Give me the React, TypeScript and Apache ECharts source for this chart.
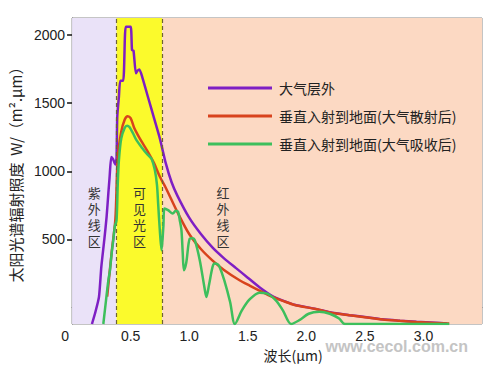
import React, { useEffect, useRef } from "react";
import * as echarts from "echarts";

// ---- data (wavelength µm, irradiance W/(m²·µm)) ----
const seriesNames = ["大气层外", "垂直入射到地面(大气散射后)", "垂直入射到地面(大气吸收后)"];

const outsideX = [0.17, 0.2, 0.23, 0.25, 0.275, 0.295, 0.31, 0.32, 0.335, 0.35, 0.37, 0.38, 0.386, 0.4, 0.412, 0.437, 0.452, 0.46, 0.5, 0.512, 0.525, 0.545, 0.56, 0.575, 0.6, 0.65, 0.7, 0.75, 0.8, 0.85, 0.9, 1.0, 1.1, 1.2, 1.3, 1.4, 1.5, 1.6, 1.71, 1.8, 1.9, 2.08, 2.2, 2.37, 2.5, 2.65, 2.8, 2.94, 3.1, 3.2];
const outsideY = [-120, -30, 79, 299, 495, 666, 840, 950, 1105, 1090, 1050, 1100, 1400, 1547, 1665, 1665, 2000, 2061, 2061, 1890, 1885, 1719, 1740, 1748, 1690, 1540, 1390, 1240, 1060, 920, 820, 660, 540, 440, 360, 290, 220, 150, 85, 52, 21, -9, -34, -55, -69, -86, -96, -104, -111, -116];

const scatterX = [0.3, 0.34, 0.37, 0.39, 0.42, 0.45, 0.475, 0.5, 0.53, 0.56, 0.6, 0.65, 0.7, 0.75, 0.8, 0.9, 1.0, 1.1, 1.2, 1.3, 1.43, 1.52, 1.6, 1.71, 1.8, 1.9, 2.08, 2.2, 2.37, 2.5, 2.65, 2.8, 2.94, 3.1, 3.22];
const scatterY = [80, 420, 650, 1100, 1290, 1380, 1405, 1390, 1320, 1270, 1210, 1140, 1060, 960, 880, 700, 540, 430, 345, 275, 201, 160, 125, 79, 50, 20, -10, -35, -56, -70, -87, -97, -105, -112, -117];

const absorbX = [0.267, 0.29, 0.31, 0.324, 0.338, 0.352, 0.366, 0.38, 0.39, 0.4, 0.42, 0.45, 0.47, 0.49, 0.52, 0.55, 0.6, 0.636, 0.66, 0.68, 0.707, 0.725, 0.735, 0.75, 0.764, 0.78, 0.79, 0.82, 0.86, 0.885, 0.905, 0.92, 0.934, 0.945, 0.955, 0.975, 1.005, 1.03, 1.048, 1.09, 1.13, 1.147, 1.17, 1.2, 1.218, 1.24, 1.26, 1.3, 1.35, 1.39, 1.45, 1.516, 1.6, 1.66, 1.74, 1.8, 1.87, 1.94, 2.02, 2.11, 2.2, 2.28, 2.33, 3.22];
const absorbY = [-120, 54, 200, 275, 397, 495, 600, 640, 900, 1080, 1240, 1320, 1335, 1325, 1280, 1229, 1170, 1131, 1110, 1090, 1009, 900, 764, 560, 421, 600, 728, 715, 691, 710, 703, 640, 568, 400, 275, 330, 507, 510, 495, 350, 150, 79, 170, 300, 324, 320, 299, 200, 40, -120, -20, 60, 110, 105, 54, -20, -120, -92, -45, -31, -45, -80, -120, -120];

const regionBounds = [0, 0.38, 0.77, 3.5];
const regionLabels = ["紫\n外\n线\n区", "可\n见\n光\n区", "红\n外\n线\n区"];
const xLabelValues = [0, 0.5, 1.0, 1.5, 2.0, 2.5, 3.0];
const xTickValues = [0.5, 1.0, 1.5, 2.0, 2.5, 3.0];
const yTickValues = [500, 1000, 1500, 2000];

const zip = (xs: number[], ys: number[]) => xs.map((x, i) => [x, ys[i]]);

export default function App() {
  const ref = useRef<HTMLDivElement>(null);
  useEffect(() => {
    if (!ref.current) return;
    document.body.style.margin = "0";
    const chart = echarts.init(ref.current, null, { renderer: "svg" });
    const font = "'Liberation Sans', Arial, 'Noto Sans CJK SC', sans-serif";
    const cjk = "'Noto Sans CJK SC', sans-serif";
    const bandColors = ["#eae2f8", "#fbfa2c", "#fcd9c3"];
    const labelPos: any[] = [["50%", "65%"], ["50%", "65%"], ["19%", "65%"]];
    chart.setOption({
      animation: false,
      backgroundColor: "#ffffff",
      grid: { left: 72, right: 18, top: 18, bottom: 51, show: true, borderColor: "#8a8a8a", borderWidth: 1 },
      legend: {
        orient: "vertical",
        left: 203,
        top: 76,
        itemWidth: 64,
        itemHeight: 3,
        itemGap: 14,
        icon: "rect",
        textStyle: { fontFamily: cjk, fontSize: 14, color: "#222", padding: [0, 0, 0, 2] },
        data: seriesNames,
      },
      xAxis: {
        type: "value",
        min: 0,
        max: 3.5,
        name: "波长(μm)",
        nameLocation: "middle",
        nameGap: 20,
        nameTextStyle: { fontFamily: cjk, fontSize: 14, color: "#222", padding: [0, 0, 0, 32] },
        axisLine: { lineStyle: { color: "#6a6a6a", width: 1 } },
        axisTick: { inside: true, length: 7, lineStyle: { color: "#111", width: 1.5 }, customValues: xTickValues },
        splitLine: { show: false },
        axisLabel: {
          customValues: xLabelValues,
          margin: 5,
          fontFamily: font,
          fontSize: 14,
          color: "#222",
          formatter: (v: number) => (v === 0 ? "{o|0}" : v.toFixed(1)),
          rich: { o: { fontFamily: font, fontSize: 14, color: "#222", padding: [0, 14, 0, 0] } },
        },
      },
      yAxis: {
        type: "value",
        min: -120,
        max: 2125,
        name: "太阳光谱辐射照度  W/（m².μm）",
        nameLocation: "middle",
        nameGap: 44,
        nameTextStyle: { fontFamily: cjk, fontSize: 15, color: "#222" },
        axisLine: { show: true, lineStyle: { color: "#6a6a6a", width: 1 } },
        axisTick: { show: true, length: 5, lineStyle: { color: "#111", width: 1.5 }, customValues: yTickValues },
        splitLine: { show: false },
        axisLabel: {
          customValues: yTickValues,
          margin: 7,
          fontFamily: font,
          fontSize: 14,
          color: "#222",
          formatter: (v: number) => String(v),
        },
      },
      series: [
        {
          name: seriesNames[0],
          type: "line",
          data: zip(outsideX, outsideY),
          showSymbol: false,
          smooth: 0.2,
          lineStyle: { color: "#7e1fc4", width: 2.5 },
          itemStyle: { color: "#7e1fc4" },
          z: 3,
          markArea: {
            silent: true,
            data: regionBounds.slice(0, 3).map((b, i) => [
              {
                xAxis: b,
                itemStyle: { color: bandColors[i] },
                label: {
                  show: true,
                  position: labelPos[i],
                  align: "center",
                  verticalAlign: "middle",
                  formatter: regionLabels[i],
                  fontFamily: cjk,
                  fontSize: 13,
                  lineHeight: 16,
                  color: "#333",
                },
              },
              { xAxis: regionBounds[i + 1] },
            ]),
          },
          markLine: {
            silent: true,
            symbol: "none",
            label: { show: false },
            lineStyle: { color: "#6e6236", type: [4, 3], width: 1.2 },
            data: [{ xAxis: regionBounds[1] }, { xAxis: regionBounds[2] }],
          },
        },
        {
          name: seriesNames[1],
          type: "line",
          data: zip(scatterX, scatterY),
          showSymbol: false,
          smooth: 0.3,
          lineStyle: { color: "#d8431d", width: 2.5 },
          itemStyle: { color: "#d8431d" },
          z: 4,
        },
        {
          name: seriesNames[2],
          type: "line",
          data: zip(absorbX, absorbY),
          showSymbol: false,
          smooth: 0.3,
          lineStyle: { color: "#3dbf5c", width: 2.5 },
          itemStyle: { color: "#3dbf5c" },
          z: 6,
        },
      ],
      graphic: [
        {
          type: "text",
          right: 32,
          top: 338,
          style: { text: "www.cecol.com.cn", fontFamily: font, fontWeight: "bold", fontSize: 16, fill: "#c4c4c4" },
        },
      ],
    });
    return () => chart.dispose();
  }, []);
  return <div ref={ref} style={{ width: 500, height: 375 }} />;
}
